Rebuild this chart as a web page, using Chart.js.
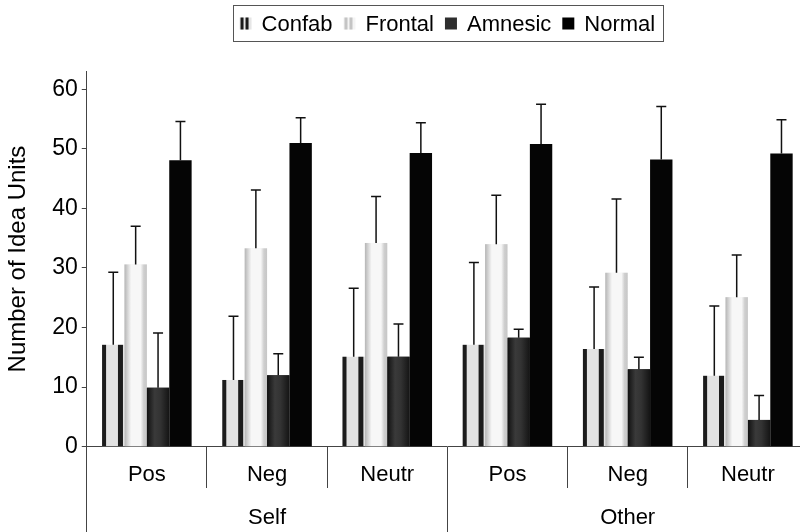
<!DOCTYPE html>
<html>
<head>
<meta charset="utf-8">
<script src="https://cdn.jsdelivr.net/npm/chart.js@4.4.1/dist/chart.umd.min.js"></script>
<style>
html,body{margin:0;padding:0;background:#fff;overflow:hidden;width:800px;height:532px}
#wrap{width:810px;height:532px;position:relative}
canvas{display:block}
</style>
</head>
<body>
<div id="wrap"><canvas id="c" width="810" height="532"></canvas></div>
<script>
// ---- data ----
const categories = ['Pos', 'Neg', 'Neutr', 'Pos', 'Neg', 'Neutr'];
const groups = ['Self', 'Other'];
const seriesNames = ['Confab', 'Frontal', 'Amnesic', 'Normal'];

const confab     = [17.1, 11.2, 15.1, 17.1, 16.4, 11.9];
const confabErr  = [12.2, 10.7, 11.5, 13.8, 10.4, 11.7];
const frontal    = [30.6, 33.3, 34.2, 34.0, 29.2, 25.1];
const frontalErr = [6.4, 9.8, 7.8, 8.2, 12.4, 7.1];
const amnesic    = [9.9, 12.0, 15.1, 18.3, 13.0, 4.5];
const amnesicErr = [9.2, 3.6, 5.5, 1.4, 2.0, 4.1];
const normal     = [48.1, 51.0, 49.3, 50.8, 48.2, 49.2];
const normalErr  = [6.5, 4.2, 5.1, 6.7, 8.9, 5.7];

const yTicks = [0, 10, 20, 30, 40, 50, 60];

const values = [confab, frontal, amnesic, normal];
const errors = [confabErr, frontalErr, amnesicErr, normalErr];

const FONT = '"Liberation Sans", Arial, Helvetica, sans-serif';
Chart.defaults.font.family = FONT;
Chart.defaults.color = '#000';

function drawMarker(ctx, i, x, y, w, h) {
  if (i === 0) {
    ctx.fillStyle = '#e6e6e6'; ctx.fillRect(x, y, w, h);
    ctx.fillStyle = '#1a1a1a';
    ctx.fillRect(x + 1, y, 3, h); ctx.fillRect(x + 6, y, 3, h);
  } else if (i === 1) {
    ctx.fillStyle = '#f4f4f4'; ctx.fillRect(x, y, w, h);
    ctx.fillStyle = '#c4c4c4';
    ctx.fillRect(x + 1, y, 3, h); ctx.fillRect(x + 6, y, 3, h);
  } else if (i === 2) {
    ctx.fillStyle = '#2e2e2e'; ctx.fillRect(x, y, w, h);
  } else {
    ctx.fillStyle = '#000'; ctx.fillRect(x, y, w, h);
  }
}

const boxLegend = {
  id: 'boxLegend',
  afterDraw(chart) {
    const ctx = chart.ctx, ca = chart.chartArea;
    ctx.save();
    ctx.font = '22px ' + FONT;
    const mw = 12, gap = 10, spacing = 11;
    const widths = seriesNames.map(n => ctx.measureText(n).width);
    const total = widths.reduce((a, b) => a + b, 0) + seriesNames.length * (mw + gap) + (seriesNames.length - 1) * spacing;
    let x = (ca.left + ca.right) / 2 - total / 2;
    const cy = 23.5;
    ctx.strokeStyle = '#555';
    ctx.lineWidth = 1;
    ctx.strokeRect(Math.round(x - 7) + 0.5, 5.5, Math.round(total + 14), 36);
    ctx.textBaseline = 'middle';
    ctx.textAlign = 'left';
    seriesNames.forEach((n, i) => {
      drawMarker(ctx, i, x, cy - 6, mw, 12);
      ctx.fillStyle = '#000';
      ctx.fillText(n, x + mw + gap, cy + 1);
      x += mw + gap + widths[i] + spacing;
    });
    ctx.restore();
  }
};

const barStyle = {
  id: 'barStyle',
  afterDatasetsDraw(chart) {
    const ctx = chart.ctx, yS = chart.scales.y;
    ctx.save();
    chart.data.datasets.forEach((ds, i) => {
      const meta = chart.getDatasetMeta(i);
      meta.data.forEach((el) => {
        const p = el.getProps(['x', 'y', 'base', 'width'], true);
        const x0 = p.x - p.width / 2, w = p.width, top = p.y, h = p.base - p.y;
        if (i === 0) {
          ctx.fillStyle = '#1c1c1c';
          ctx.fillRect(x0, top, 4, h);
          ctx.fillRect(x0 + w - 6.5, top, 5, h);
        } else if (i === 1) {
          const g = ctx.createLinearGradient(x0, 0, x0 + w, 0);
          g.addColorStop(0, '#b5b5b5'); g.addColorStop(0.14, '#d4d4d4');
          g.addColorStop(0.3, '#f7f7f7'); g.addColorStop(0.72, '#f7f7f7');
          g.addColorStop(0.86, '#cfcfcf'); g.addColorStop(1, '#c6c6c6');
          ctx.fillStyle = g; ctx.fillRect(x0, top, w, h);
        } else if (i === 2) {
          const g = ctx.createLinearGradient(x0, 0, x0 + w, 0);
          g.addColorStop(0, '#111'); g.addColorStop(0.35, '#3a3a3a');
          g.addColorStop(0.6, '#333'); g.addColorStop(1, '#141414');
          ctx.fillStyle = g; ctx.fillRect(x0, top, w, h);
        }
      });
    });
    // error bars (upper only)
    ctx.strokeStyle = '#111';
    ctx.lineWidth = 1.5;
    chart.data.datasets.forEach((ds, i) => {
      const meta = chart.getDatasetMeta(i);
      meta.data.forEach((el, j) => {
        const p = el.getProps(['x', 'y'], true);
        const ye = yS.getPixelForValue(values[i][j] + errors[i][j]);
        ctx.beginPath();
        ctx.moveTo(p.x, p.y); ctx.lineTo(p.x, ye);
        ctx.moveTo(p.x - 5, ye); ctx.lineTo(p.x + 5, ye);
        ctx.stroke();
      });
    });
    ctx.restore();
  }
};

const colors = ['#e2e2e2', '#f2f2f2', '#2e2e2e', '#050505'];

new Chart(document.getElementById('c'), {
  type: 'bar',
  data: {
    labels: categories,
    datasets: seriesNames.map((n, i) => ({
      label: n,
      data: values[i],
      backgroundColor: colors[i],
      borderWidth: 0,
      barPercentage: 1.0,
      categoryPercentage: 0.745
    }))
  },
  options: {
    responsive: false,
    animation: false,
    layout: { padding: { top: 71.4, left: 0, right: 2, bottom: 0 } },
    plugins: { legend: { display: false }, tooltip: { enabled: false } },
    scales: {
      x: {
        position: 'bottom',
        weight: 0,
        offset: true,
        grid: { display: true, offset: true, drawOnChartArea: false, drawTicks: true, tickLength: 41.3, color: '#444', lineWidth: 1 },
        border: { display: true, color: '#444', width: 1 },
        ticks: { font: { size: 22 }, color: '#000', padding: -26.2, maxRotation: 0, autoSkip: false },
        afterFit(s) { s.height = 41.3; }
      },
      x2: {
        type: 'category',
        labels: groups,
        position: 'bottom',
        weight: 1,
        offset: true,
        grid: { display: true, offset: true, drawOnChartArea: false, drawTicks: true, tickLength: 44, color: '#444', lineWidth: 1 },
        border: { display: false },
        ticks: { font: { size: 22 }, color: '#000', padding: -27.2, maxRotation: 0, autoSkip: false },
        afterFit(s) { s.height = 44; }
      },
      y: {
        min: 0,
        max: 63,
        ticks: { stepSize: 10, font: { size: 23 }, color: '#000', padding: 4 },
        afterBuildTicks(s) { s.ticks = yTicks.map(v => ({ value: v })); },
        grid: { display: true, drawOnChartArea: false, drawTicks: true, tickLength: 5, color: '#444' },
        border: { display: true, color: '#444', width: 1 },
        title: { display: true, text: 'Number of Idea Units', font: { size: 24 }, color: '#000', padding: { top: 3.6, bottom: 0 } },
        afterFit(s) { s.width = 86.75; }
      }
    }
  },
  plugins: [barStyle, boxLegend]
});
</script>
</body>
</html>
